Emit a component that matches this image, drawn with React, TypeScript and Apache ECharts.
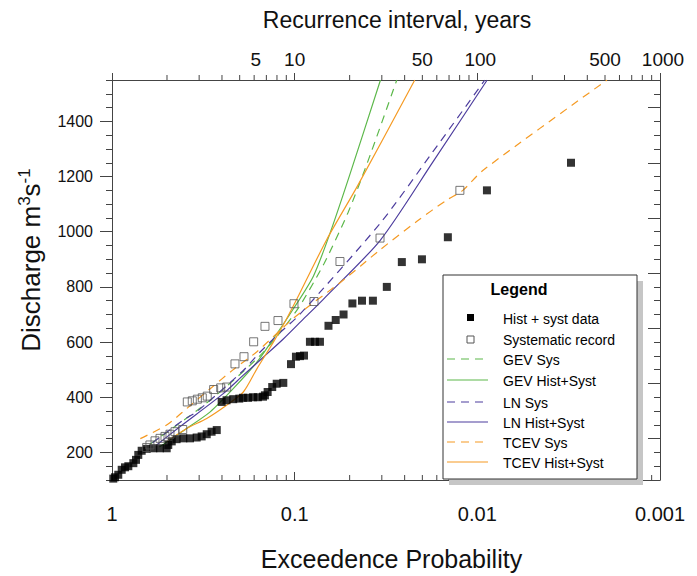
import React, { useEffect, useRef } from "react";
import * as echarts from "echarts";

// ---- Observed data (exceedance probability, discharge) ----
const histP = [0.984, 0.963, 0.924, 0.885, 0.849, 0.814, 0.764, 0.739, 0.718, 0.688, 0.646, 0.594, 0.546, 0.502, 0.492, 0.471, 0.443, 0.407, 0.374, 0.344, 0.323, 0.303, 0.285, 0.267, 0.251, 0.236, 0.217, 0.201, 0.192, 0.18, 0.169, 0.159, 0.149, 0.1455, 0.1406, 0.1327, 0.1254, 0.1154, 0.1047, 0.0984, 0.0935, 0.0889, 0.0825, 0.0774, 0.0727, 0.0653, 0.0596, 0.054, 0.0483, 0.0428, 0.0373, 0.0313, 0.0259, 0.0201, 0.0145, 0.00886, 0.00307];
const histQ = [105, 110, 119, 137, 146, 150, 161, 173, 191, 206, 213, 215, 215, 215, 227, 240, 248, 251, 251, 254, 258, 266, 275, 281, 383, 389, 393, 395, 398, 398, 400, 400, 402, 407, 419, 437, 449, 452, 520, 547, 549, 551, 601, 601, 601, 659, 680, 700, 740, 750, 750, 800, 890, 900, 980, 1150, 1250];

const sysP = [0.646, 0.62, 0.5815, 0.546, 0.5128, 0.4815, 0.452, 0.41, 0.387, 0.3635, 0.341, 0.3205, 0.301, 0.2776, 0.254, 0.2356, 0.2122, 0.1894, 0.1677, 0.1454, 0.1234, 0.1009, 0.0784, 0.0565, 0.0341, 0.01246];
const sysQ = [218, 227, 242, 251, 258, 266, 275, 283, 383, 387, 393, 398, 404, 428, 434, 437, 521, 547, 601, 657, 678, 739, 747, 892, 977, 1150];

// ---- Fitted distributions ----
const gevSysP = [0.62, 0.45, 0.33, 0.25, 0.19, 0.15, 0.12, 0.094, 0.069, 0.051, 0.04, 0.0276];
const gevSysQ = [230, 295, 360, 425, 495, 560, 635, 730, 885, 1070, 1250, 1550];

const gevHistP = [0.55, 0.39, 0.29, 0.217, 0.161, 0.131, 0.102, 0.079, 0.064, 0.05, 0.0339];
const gevHistQ = [220, 287, 347, 431, 527, 611, 719, 839, 995, 1205, 1550];

const lnSysP = [0.6, 0.407, 0.34, 0.191, 0.155, 0.12, 0.0935, 0.034, 0.0175, 0.0091];
const lnSysQ = [235, 317, 350, 497, 563, 635, 701, 1031, 1290, 1550];

const lnHistP = [0.57, 0.425, 0.246, 0.191, 0.1485, 0.1154, 0.0897, 0.0697, 0.034, 0.0175, 0.00883];
const lnHistQ = [227, 293, 413, 480, 545, 611, 683, 755, 969, 1253, 1550];

const tcevSysP = [0.7, 0.5, 0.39, 0.29, 0.217, 0.161, 0.1, 0.0565, 0.0437, 0.034, 0.0215, 0.0147, 0.012, 0.0093, 0.00195];
const tcevSysQ = [250, 300, 359, 431, 500, 565, 690, 815, 875, 935, 1037, 1115, 1150, 1223, 1550];

const tcevHistP = [0.5, 0.39, 0.303, 0.236, 0.191, 0.161, 0.131, 0.111, 0.0935, 0.0668, 0.0451, 0.022];
const tcevHistQ = [240, 287, 323, 371, 419, 503, 599, 683, 779, 971, 1168, 1550];

// ---- Axes ----
const pMin = 0.001;
const pMax = 1;
const qMin = 100;
const qMax = 1550;
const yLabelValues = [200, 400, 600, 800, 1000, 1200, 1400];
const yRightMajor = [250, 450, 650, 850, 1050, 1250, 1450];
// minor ticks sit at recurrence intervals (years) 2..9, 20..90, 200..900
const minorYears = [2, 3, 4, 5, 6, 7, 8, 9, 20, 30, 40, 50, 60, 70, 80, 90, 200, 300, 400, 500, 600, 700, 800, 900];
const topYears = [5, 10, 50, 100, 500, 1000];

const legendLabels = ["Hist + syst data", "Systematic record", "GEV Sys", "GEV Hist+Syst", "LN Sys", "LN Hist+Syst", "TCEV Sys", "TCEV Hist+Syst"];

export default function App() {
  const ref = useRef<HTMLDivElement>(null);

  useEffect(() => {
    document.body.style.margin = "0";
    const el = ref.current as HTMLDivElement;
    const chart = echarts.init(el, null, { renderer: "svg" });
    const FONT = "Liberation Sans, Arial, Helvetica, sans-serif";
    const AX = "#444";
    const TXT = "#111";
    const GREEN = "#5cb84a";
    const PURPLE = "#4d3d9e";
    const ORANGE = "#f59a23";
    const topLabelShift: Record<number, number> = { 5: 16, 100: 3, 1000: 3 };

    const pairs = (p: number[], q: number[]) => p.map((v, i) => [v, q[i]]);
    const fit = (name: string, p: number[], q: number[], color: string, dashed: boolean) => ({
      type: "line",
      name,
      data: pairs(p, q),
      showSymbol: false,
      symbol: "none",
      smooth: 0.25,
      silent: true,
      z: 3,
      lineStyle: { color, width: 1.2, type: dashed ? [8, 6] : "solid" },
    });

    const tickSeries = (yEdge: number, len: number) => ({
      type: "custom",
      silent: true,
      clip: false,
      z: 6,
      data: minorYears.map((t) => [1 / t, yEdge]),
      renderItem: (_params: any, api: any) => {
        const pt = api.coord([api.value(0), api.value(1)]);
        return {
          type: "line",
          shape: { x1: pt[0], y1: pt[1], x2: pt[0], y2: pt[1] - len },
          style: { stroke: AX, lineWidth: 1 },
        };
      },
    });

    const legendX = 443;
    const legendY = 275;
    const legendW = 194;
    const legendH = 204;
    const rowY = [318, 339, 359, 380, 402, 422, 442, 462];
    const legendStyles = [
      { kind: "filled" },
      { kind: "open" },
      { kind: "line", color: GREEN, dash: true },
      { kind: "line", color: GREEN, dash: false },
      { kind: "line", color: PURPLE, dash: true },
      { kind: "line", color: PURPLE, dash: false },
      { kind: "line", color: ORANGE, dash: true },
      { kind: "line", color: ORANGE, dash: false },
    ];
    const legendChildren: any[] = [
      { type: "rect", shape: { x: legendX + 6, y: legendY + 6, width: legendW, height: legendH }, style: { fill: "#c6c6c6" }, z: 20 },
      { type: "rect", shape: { x: legendX, y: legendY, width: legendW, height: legendH }, style: { fill: "#fff", stroke: "#333", lineWidth: 1 }, z: 21 },
      { type: "text", x: legendX + 76, y: legendY + 14, z: 22, style: { text: "Legend", font: `bold 16px ${FONT}`, fill: "#000", align: "center", verticalAlign: "middle" } },
    ];
    legendLabels.forEach((label, i) => {
      const s: any = legendStyles[i];
      const y = rowY[i];
      if (s.kind === "filled") {
        legendChildren.push({ type: "rect", z: 22, shape: { x: 467, y: y - 4, width: 7, height: 7 }, style: { fill: "#000" } });
      } else if (s.kind === "open") {
        legendChildren.push({ type: "rect", z: 22, shape: { x: 467, y: y - 3, width: 7, height: 7 }, style: { fill: "none", stroke: "#555", lineWidth: 1 } });
      } else {
        legendChildren.push({ type: "line", z: 22, shape: { x1: 447, y1: y, x2: 488, y2: y }, style: { stroke: s.color, lineWidth: 1.2, lineDash: s.dash ? [8, 6] : null } });
      }
      legendChildren.push({ type: "text", z: 22, x: 503, y: y + 1, style: { text: label, font: `14px ${FONT}`, fill: "#000", align: "left", verticalAlign: "middle" } });
    });

    const option: any = {
      animation: false,
      grid: { left: 112, top: 80, width: 548, height: 403, containLabel: false },
      xAxis: [
        {
          type: "log",
          logBase: 10,
          min: pMin,
          max: pMax,
          inverse: true,
          position: "bottom",
          axisLine: { show: true, onZero: false, lineStyle: { color: AX } },
          axisTick: { show: true, inside: true, length: 8, lineStyle: { color: AX } },
          axisLabel: {
            fontFamily: FONT,
            fontSize: 20,
            color: TXT,
            margin: 24,
            formatter: (v: number) => String(+Number(v).toPrecision(6)),
          },
          splitLine: { show: false },
          name: "Exceedence Probability",
          nameLocation: "middle",
          nameGap: 66,
          nameTextStyle: { fontFamily: FONT, fontSize: 25, color: TXT, padding: [0, 0, 0, 11] },
        },
        {
          type: "log",
          logBase: 10,
          min: pMin,
          max: pMax,
          inverse: true,
          position: "top",
          axisLine: { show: true, onZero: false, lineStyle: { color: AX } },
          axisTick: { show: true, inside: false, length: 7, lineStyle: { color: AX } },
          axisLabel: { show: false },
          splitLine: { show: false },
          name: "Recurrence interval, years",
          nameLocation: "middle",
          nameGap: 49,
          nameTextStyle: { fontFamily: FONT, fontSize: 23, color: TXT, padding: [0, 0, 0, 22] },
        },
      ],
      yAxis: [
        {
          type: "value",
          min: qMin,
          max: qMax,
          interval: 50,
          position: "left",
          axisLine: { show: true, onZero: false, lineStyle: { color: AX } },
          axisTick: { show: true, inside: false, length: 6, lineStyle: { color: AX } },
          axisLabel: {
            customValues: yLabelValues,
            fontFamily: FONT,
            fontSize: 16,
            color: TXT,
            margin: 19,
            formatter: (v: number) => String(v),
          },
          splitLine: { show: false },
          name: "Discharge m{sup|3}s{sup|-1}",
          nameLocation: "middle",
          nameRotate: 90,
          nameGap: 66,
          nameTextStyle: {
            fontFamily: FONT,
            fontSize: 26,
            color: TXT,
            padding: [0, 0, 0, 40],
            rich: { sup: { fontFamily: FONT, fontSize: 17, color: TXT, verticalAlign: "top", lineHeight: 30 } },
          },
        },
        {
          type: "value",
          min: qMin,
          max: qMax,
          position: "left",
          axisLine: { show: false },
          axisTick: { show: true, inside: false, length: 12, customValues: yLabelValues, lineStyle: { color: AX } },
          axisLabel: { show: false },
          splitLine: { show: false },
        },
        {
          type: "value",
          min: qMin,
          max: qMax,
          interval: 50,
          position: "right",
          axisLine: { show: true, onZero: false, lineStyle: { color: AX } },
          axisTick: { show: true, inside: true, length: 6, lineStyle: { color: AX } },
          axisLabel: { show: false },
          splitLine: { show: false },
        },
        {
          type: "value",
          min: qMin,
          max: qMax,
          position: "right",
          axisLine: { show: false },
          axisTick: { show: true, inside: true, length: 12, customValues: yRightMajor, lineStyle: { color: AX } },
          axisLabel: { show: false },
          splitLine: { show: false },
        },
      ],
      series: [
        fit("GEV Sys", gevSysP, gevSysQ, GREEN, true),
        fit("GEV Hist+Syst", gevHistP, gevHistQ, GREEN, false),
        fit("LN Sys", lnSysP, lnSysQ, PURPLE, true),
        fit("LN Hist+Syst", lnHistP, lnHistQ, PURPLE, false),
        fit("TCEV Sys", tcevSysP, tcevSysQ, ORANGE, true),
        fit("TCEV Hist+Syst", tcevHistP, tcevHistQ, ORANGE, false),
        {
          type: "scatter",
          name: "Hist + syst data",
          data: pairs(histP, histQ),
          symbol: "rect",
          symbolSize: 8,
          z: 4,
          silent: true,
          itemStyle: { color: "#000" },
        },
        {
          type: "scatter",
          name: "Systematic record",
          data: pairs(sysP, sysQ),
          symbol: "rect",
          symbolSize: 8,
          z: 4,
          silent: true,
          itemStyle: { color: "rgba(255,255,255,0)", borderColor: "#555", borderWidth: 1 },
        },
        tickSeries(qMin, 5),
        tickSeries(qMax, 5),
        {
          type: "custom",
          silent: true,
          clip: false,
          z: 6,
          data: topYears.map((t) => [1 / t, qMax, t]),
          renderItem: (_params: any, api: any) => {
            const pt = api.coord([api.value(0), api.value(1)]);
            const t = api.value(2);
            return {
              type: "text",
              x: pt[0] + (topLabelShift[t] || 0),
              y: pt[1] - 11,
              style: { text: String(t), font: `19px ${FONT}`, fill: TXT, align: "center", verticalAlign: "bottom" },
            };
          },
        },
      ],
      graphic: { elements: legendChildren },
    };

    chart.setOption(option);
    return () => chart.dispose();
  }, []);

  return <div ref={ref} style={{ width: 697, height: 576, overflow: "hidden" }} />;
}
